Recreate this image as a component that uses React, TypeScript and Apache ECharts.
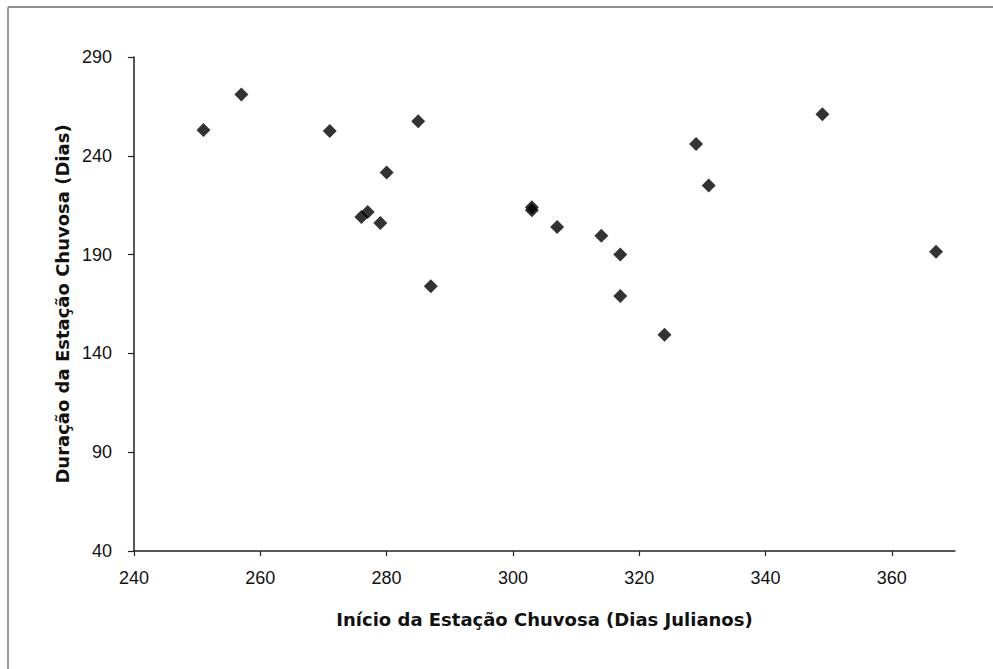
import React, { useEffect, useRef } from "react";
import * as echarts from "echarts";

const startDays = [251, 257, 271, 285, 280, 276, 277, 279, 287, 303, 303, 307, 314, 317, 317, 324, 329, 331, 349, 367];
const durationDays = [253, 271, 252.5, 257.5, 231.5, 209, 211.5, 206, 174, 212.5, 214, 204, 199.5, 190, 169, 149.5, 246, 225, 261, 191.5];
const xTicks = [240, 260, 280, 300, 320, 340, 360];
const yTicks = [40, 90, 140, 190, 240, 290];

const xName = "Início da Estação Chuvosa (Dias Julianos)";
const yName = "Duração da Estação Chuvosa (Dias)";

export default function App() {
  const ref = useRef<HTMLDivElement>(null);
  useEffect(() => {
    if (!ref.current) return;
    const chart = echarts.init(ref.current, undefined, { renderer: "svg" });
    const font = "'Liberation Sans', Arial, sans-serif";
    const titleFont = "'DejaVu Sans', 'Liberation Sans', sans-serif";
    const points = startDays.map((x, i) => [x, durationDays[i]]);
    chart.setOption({
      animation: false,
      backgroundColor: "#ffffff",
      textStyle: { fontFamily: font },
      grid: { left: 134, right: 38, top: 57, bottom: 118, containLabel: false },
      graphic: [
        { type: "line", shape: { x1: 8, y1: 7, x2: 993, y2: 7 }, style: { stroke: "#6a6a6a", lineWidth: 1.5 }, silent: true },
        { type: "line", shape: { x1: 8, y1: 7, x2: 8, y2: 669 }, style: { stroke: "#7a7a7a", lineWidth: 1.5 }, silent: true },
      ],
      xAxis: {
        type: "value",
        min: 240,
        max: 370,
        interval: 20,
        name: xName,
        nameLocation: "middle",
        nameGap: 59,
        nameTextStyle: { fontFamily: titleFont, fontSize: 18, fontWeight: "bold", color: "#111" },
        axisLine: { show: true, onZero: false, lineStyle: { color: "#222", width: 1.5 } },
        axisTick: { show: true, length: 5, lineStyle: { color: "#222", width: 1.2 }, customValues: xTicks },
        axisLabel: { margin: 18, fontSize: 18, color: "#111", fontFamily: font, customValues: xTicks },
        splitLine: { show: false },
      },
      yAxis: {
        type: "value",
        min: 40,
        max: 290,
        interval: 50,
        name: yName,
        nameLocation: "middle",
        nameGap: 62,
        nameTextStyle: { fontFamily: titleFont, fontSize: 18, fontWeight: "bold", color: "#111" },
        axisLine: { show: true, onZero: false, lineStyle: { color: "#222", width: 1.5 } },
        axisTick: { show: true, length: 6, lineStyle: { color: "#222", width: 1.2 }, customValues: yTicks },
        axisLabel: { margin: 22, fontSize: 18, color: "#111", fontFamily: font, customValues: yTicks },
        splitLine: { show: false },
      },
      series: [
        {
          type: "scatter",
          data: points,
          symbol: "diamond",
          symbolSize: 14,
          itemStyle: { color: "#000" },
        },
      ],
    });
    return () => chart.dispose();
  }, []);
  return <div ref={ref} style={{ position: "fixed", left: 0, top: 0, width: 993, height: 669 }} />;
}
